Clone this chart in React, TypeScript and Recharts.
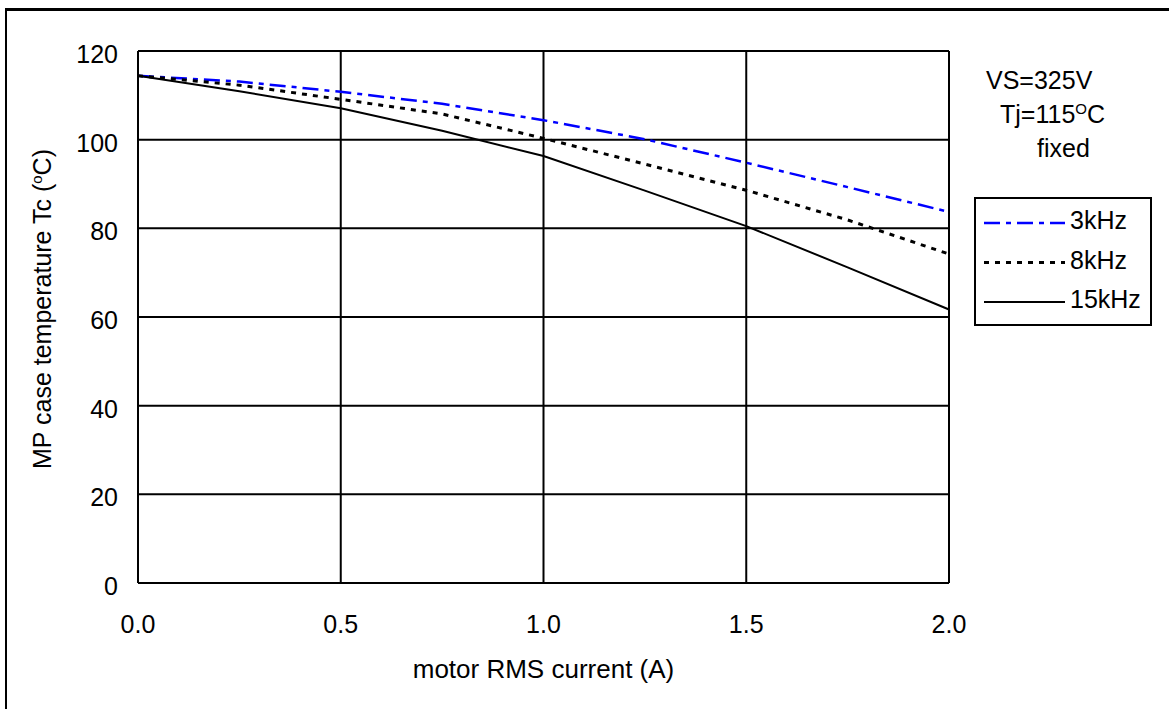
import { LineChart, Line, XAxis, YAxis, CartesianGrid, Legend } from "recharts";

const current = [0, 0.25, 0.5, 0.75, 1.0, 1.25, 1.5, 1.75, 2.0];
const temp3k = [114.4, 113.1, 110.8, 108.1, 104.4, 100.1, 94.8, 89.3, 83.7];
const temp8k = [114.4, 112.3, 109.1, 105.8, 100.3, 94.5, 88.6, 81.9, 74.2];
const temp15k = [114.4, 110.9, 107.1, 102.0, 96.3, 88.5, 80.5, 71.2, 61.7];

const xTicks = [0, 0.5, 1.0, 1.5, 2.0];
const yTicks = [0, 20, 40, 60, 80, 100, 120];

const series = [
  { key: "f3", name: "3kHz", color: "#0000ff", dash: "16 6 5 6", width: 2.5 },
  { key: "f8", name: "8kHz", color: "#000000", dash: "5 6", width: 3 },
  { key: "f15", name: "15kHz", color: "#000000", dash: undefined, width: 2 },
];

const data = current.map((c, i) => ({
  x: c,
  f3: temp3k[i],
  f8: temp8k[i],
  f15: temp15k[i],
}));

const FONT = "'Liberation Sans', Arial, sans-serif";
const FS = 25;

function LegendBox() {
  // keep the reference order (3kHz, 8kHz, 15kHz) rather than recharts' sorted payload
  return (
    <svg width={178} height={129} style={{ display: "block" }}>
      <rect x={1} y={1} width={176} height={127} fill="#fff" stroke="#000" strokeWidth={2} />
      {series.map((s, i) => {
        const cy = 26 + i * 39.5;
        return (
          <g key={s.key}>
            <line
              x1={10}
              x2={91}
              y1={cy}
              y2={cy}
              stroke={s.color}
              strokeWidth={s.width}
              strokeDasharray={s.dash}
            />
            <text x={96} y={cy + 6} fontSize={FS} fontFamily={FONT} fill="#000">
              {s.name}
            </text>
          </g>
        );
      })}
    </svg>
  );
}

export default function App() {
  return (
    <div
      style={{
        position: "relative",
        width: 1169,
        height: 709,
        overflow: "hidden",
        background: "#fff",
        fontFamily: FONT,
      }}
    >
      <style>{`body{margin:0}`}</style>
      <div
        style={{
          position: "absolute",
          left: 5,
          top: 8,
          width: 1300,
          height: 900,
          borderTop: "3px solid #000",
          borderLeft: "2px solid #000",
        }}
      />
      <div style={{ position: "absolute", left: 0, top: 0 }}>
        <LineChart
          width={1169}
          height={709}
          data={data}
          margin={{ top: 51, right: 220, bottom: 26, left: 0 }}
        >
          <CartesianGrid stroke="#000" strokeWidth={2} />
          <XAxis
            dataKey="x"
            type="number"
            domain={[0, 2]}
            ticks={xTicks}
            tickFormatter={(v: number) => v.toFixed(1)}
            tick={{ fill: "#000", fontSize: FS, fontFamily: FONT }}
            tickLine={false}
            tickSize={0}
            tickMargin={32}
            axisLine={{ stroke: "#000", strokeWidth: 2 }}
            height={100}
            label={{
              value: "motor RMS current (A)",
              position: "insideBottom",
              offset: 5,
              fill: "#000",
              fontSize: 26,
              fontFamily: FONT,
            }}
          />
          <YAxis
            type="number"
            domain={[0, 120]}
            ticks={yTicks}
            tick={{ fill: "#000", fontSize: FS, fontFamily: FONT, dy: 3 }}
            tickLine={false}
            tickSize={0}
            tickMargin={20}
            axisLine={{ stroke: "#000", strokeWidth: 2 }}
            width={138}
            label={{
              content: (props: any) => {
                const vb = props.viewBox ?? { x: 0, y: 51, width: 138, height: 532 };
                const cx = vb.x + 51;
                const cy = vb.y + vb.height / 2 - 8;
                return (
                  <text
                    x={cx}
                    y={cy}
                    transform={`rotate(-90 ${cx} ${cy})`}
                    textAnchor="middle"
                    fontSize={FS}
                    fontFamily={FONT}
                    fill="#000"
                  >
                    MP case temperature Tc (
                    <tspan fontSize={15} dy={-9}>o</tspan>
                    <tspan dy={9}>C)</tspan>
                  </text>
                );
              },
            }}
          />
          <Legend
            layout="vertical"
            align="center"
            verticalAlign="middle"
            wrapperStyle={{ position: "absolute", left: 974, top: 197, width: 178, height: 129 }}
            content={() => <LegendBox />}
          />
          {series.map((s) => (
            <Line
              key={s.key}
              dataKey={s.key}
              name={s.name}
              type="linear"
              stroke={s.color}
              strokeWidth={s.width}
              strokeDasharray={s.dash}
              dot={false}
              activeDot={false}
              isAnimationActive={false}
            />
          ))}
        </LineChart>
      </div>
      <svg
        width={1169}
        height={709}
        style={{ position: "absolute", left: 0, top: 0, pointerEvents: "none" }}
      >
        <text x={986} y={89} fontSize={FS} fontFamily={FONT} fill="#000">
          VS=325V
        </text>
        <text x={1000} y={123} fontSize={FS} fontFamily={FONT} fill="#000">
          Tj=115
          <tspan fontSize={15} dy={-9}>O</tspan>
          <tspan dy={9}>C</tspan>
        </text>
        <text x={1037} y={157} fontSize={FS} fontFamily={FONT} fill="#000">
          fixed
        </text>
      </svg>
    </div>
  );
}
